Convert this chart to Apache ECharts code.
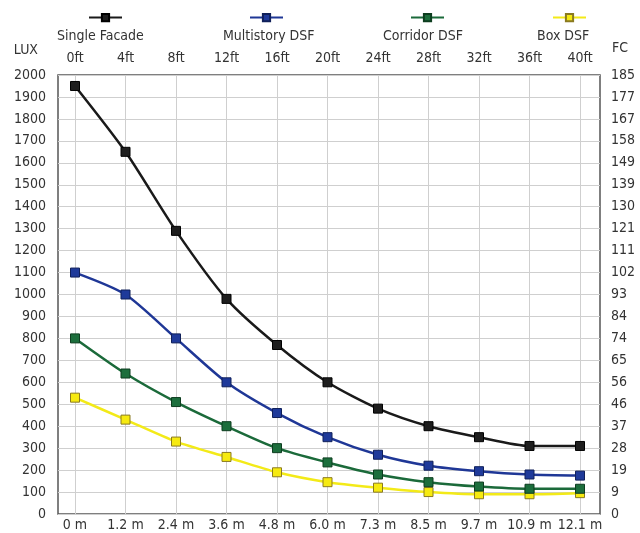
<!DOCTYPE html>
<html>
<head>
<meta charset="utf-8">
<script src="https://cdn.jsdelivr.net/npm/echarts@6/dist/echarts.min.js"></script>
<style>html,body{margin:0;padding:0;background:#fff}#c{width:640px;height:533px}</style>
</head>
<body>
<div id="c"></div>
<script>
const distancesM = ['0 m','1.2 m','2.4 m','3.6 m','4.8 m','6.0 m','7.3 m','8.5 m','9.7 m','10.9 m','12.1 m'];
const distancesFt = ['0ft','4ft','8ft','12ft','16ft','20ft','24ft','28ft','32ft','36ft','40ft'];
const singleFacade = [1950,1650,1290,980,770,600,480,400,350,310,310];
const multistoryDSF = [1100,1000,800,600,460,350,270,220,195,180,175];
const corridorDSF = [800,640,510,400,300,235,180,145,125,115,115];
const boxDSF = [530,430,330,260,190,145,120,100,90,90,95];
const fcLabels = ['0','9','19','28','37','46','56','65','74','84','93','102','111','121','130','139','149','158','167','177','185'];
const seriesNames = ['Single Facade','Multistory DSF','Corridor DSF','Box DSF'];

const FONT = '"DejaVu Sans Condensed", "Liberation Sans", Arial, sans-serif';
const txt = {color:'#333', fontFamily: FONT, fontSize: 14};

const styles = [
  {line:'#1a1a1a', fill:'#1e1e1e', border:'#000'},
  {line:'#1f3796', fill:'#1f3a9a', border:'#10205a'},
  {line:'#1b6a3a', fill:'#1c6e3c', border:'#0d3d1f'},
  {line:'#f3ea18', fill:'#f6ea10', border:'#8a7a20'}
];
const seriesData = [singleFacade, multistoryDSF, corridorDSF, boxDSF];

const iconLeft = [83, 244, 405, 547];
const textLeft = [57, 223, 383, 537];
const legends = [];
seriesNames.forEach((n,i)=>{
  legends.push({data:[n], left: iconLeft[i], top: 8, itemWidth: 33, itemHeight: 9, itemGap: 0,
    formatter: () => '', textStyle: txt, selectedMode: false});
  legends.push({data:[n], left: textLeft[i] - 10, top: 24, icon: 'none', itemWidth: 0, itemHeight: 0,
    textStyle: Object.assign({}, txt), selectedMode: false});
});

const chart = echarts.init(document.getElementById('c'), null, {renderer:'canvas'});
chart.setOption({
  animation: false,
  backgroundColor: '#fff',
  legend: legends,
  grid: [
    {left: 58, right: 40, top: 75, bottom: 19, show: true, borderColor: '#555', borderWidth: 1.5, backgroundColor: 'transparent'},
    {left: 75, right: 60, top: 75, bottom: 19}
  ],
  xAxis: [
    {gridIndex: 0, type: 'value', min: 0, max: 1, show: false},
    {gridIndex: 1, type: 'category', position: 'bottom', data: distancesM, boundaryGap: false,
      axisLine: {show: false}, axisTick: {show: false},
      splitLine: {show: true, lineStyle: {color: '#cfcfcf', width: 1}},
      axisLabel: Object.assign({margin: 4, interval: 0}, txt)},
    {gridIndex: 1, type: 'category', position: 'top', data: distancesFt, boundaryGap: false,
      axisLine: {show: false}, axisTick: {show: false}, splitLine: {show: false},
      axisLabel: Object.assign({margin: 10, interval: 0}, txt)}
  ],
  yAxis: [
    {gridIndex: 0, type: 'value', position: 'left', min: 0, max: 2000, interval: 100,
      name: 'LUX', nameLocation: 'end', nameGap: 18,
      nameTextStyle: Object.assign({align: 'right', padding: [0, 20, 0, 0]}, txt),
      axisLine: {show: false}, axisTick: {show: false},
      splitLine: {show: true, lineStyle: {color: '#cfcfcf', width: 1}},
      axisLabel: Object.assign({margin: 12, formatter: v => String(v)}, txt)},
    {gridIndex: 0, type: 'value', position: 'right', min: 0, max: 2000, interval: 100,
      name: 'FC', nameLocation: 'end', nameGap: 20,
      nameTextStyle: Object.assign({align: 'left', padding: [0, 0, 0, 12]}, txt),
      axisLine: {show: false}, axisTick: {show: false}, splitLine: {show: false},
      axisLabel: Object.assign({margin: 11, formatter: v => fcLabels[Math.round(v/100)]}, txt)},
    {gridIndex: 1, type: 'value', min: 0, max: 2000, show: false}
  ],
  series: seriesNames.map((n,i)=>({
    name: n, type: 'line', xAxisIndex: 1, yAxisIndex: 2, data: seriesData[i],
    smooth: 0.25, symbol: 'rect', symbolSize: 9, showSymbol: true,
    lineStyle: {color: styles[i].line, width: 2.5},
    itemStyle: {color: styles[i].fill, borderColor: styles[i].border, borderWidth: 1},
    z: 10 - i
  }))
});
</script>
</body>
</html>
